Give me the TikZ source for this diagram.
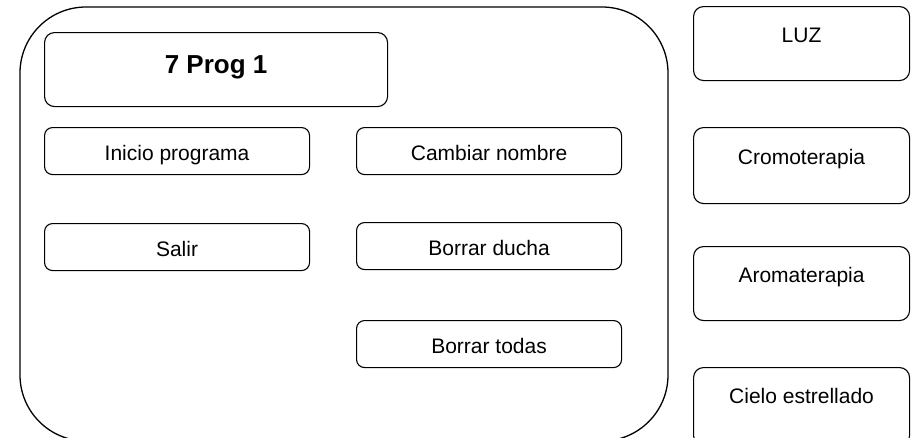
\documentclass[tikz,border=0pt]{standalone}
\usepackage{fontspec}
\setmainfont{Liberation Sans}
\usepackage{tikz}

\tikzset{
    boton/.style={draw, line width=1.1pt, rounded corners=8pt, anchor=north west,
        minimum width=265pt, minimum height=47pt, inner sep=0pt,
        text height=32.5pt, text depth=14.5pt, font=\fontsize{21}{25}\selectfont},
    lateral/.style={draw, line width=1.1pt, rounded corners=10pt, anchor=north west,
        minimum width=216pt, minimum height=74pt, inner sep=0pt,
        text height=35.5pt, text depth=38.5pt, font=\fontsize{21}{25}\selectfont},
}

\begin{document}
\begin{tikzpicture}[x=1pt, y=-1pt]
    \useasboundingbox (0,0) rectangle (917,437);

    % Panel
    \draw[line width=1.3pt, rounded corners=66pt] (20,7) rectangle (668,441);

    % Titulo
    \node[boton, minimum width=343pt, minimum height=74pt, rounded corners=10pt,
        text height=40.5pt, text depth=33.5pt, font=\fontsize{26}{30}\bfseries]
        (titulo) at (44,32) {7 Prog 1};

    % Botones
    \node[boton] (inicio) at (44,127) {Inicio programa};
    \node[boton] (salir) at (44,223) {Salir};
    \node[boton] (nombre) at (356,127) {Cambiar nombre};
    \node[boton] (ducha) at (356,222) {Borrar ducha};
    \node[boton] (todas) at (356,320) {Borrar todas};

    % Columna derecha
    \node[lateral] (luz) at (693,6) {LUZ};
    \node[lateral, minimum height=76pt] (cromo) at (693,127) {Cromoterapia};
    \node[lateral] (aroma) at (693,246) {Aromaterapia};
    \node[lateral, minimum height=78pt, text depth=42.5pt] (cielo) at (693,367) {Cielo estrellado};
\end{tikzpicture}
\end{document}
